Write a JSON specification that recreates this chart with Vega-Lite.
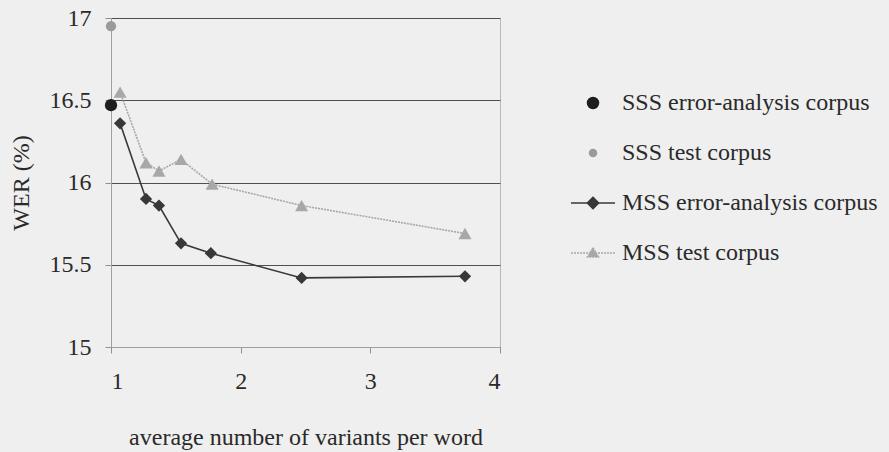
{
  "$schema": "https://vega.github.io/schema/vega-lite/v6.json",
  "width": 389,
  "height": 329,
  "autosize": {"type": "none"},
  "padding": {"left": 111, "top": 18, "right": 389, "bottom": 105},
  "background": "#efefef",
  "config": {
    "font": "Liberation Serif",
    "view": {"stroke": "#b8b8b8", "strokeWidth": 1, "fill": "#efefef"},
    "axis": {"labelFont": "Liberation Serif", "titleFont": "Liberation Serif", "labelFontSize": 24, "titleFontSize": 24, "labelColor": "#2a2a2a", "titleColor": "#2a2a2a", "titleFontWeight": "normal"},
    "legend": {"labelFont": "Liberation Serif", "labelFontSize": 24, "labelColor": "#2a2a2a", "padding": 0, "labelLimit": 0}
  },
  "data": {
    "values": [
      {"series": "SSS error-analysis corpus", "x": 1.0, "y": 16.47},
      {"series": "SSS test corpus", "x": 1.0, "y": 16.95},
      {"series": "MSS error-analysis corpus", "x": 1.07, "y": 16.36},
      {"series": "MSS error-analysis corpus", "x": 1.27, "y": 15.9},
      {"series": "MSS error-analysis corpus", "x": 1.37, "y": 15.86},
      {"series": "MSS error-analysis corpus", "x": 1.54, "y": 15.63},
      {"series": "MSS error-analysis corpus", "x": 1.77, "y": 15.57},
      {"series": "MSS error-analysis corpus", "x": 2.47, "y": 15.42},
      {"series": "MSS error-analysis corpus", "x": 3.73, "y": 15.43},
      {"series": "MSS test corpus", "x": 1.07, "y": 16.55},
      {"series": "MSS test corpus", "x": 1.27, "y": 16.12},
      {"series": "MSS test corpus", "x": 1.37, "y": 16.07},
      {"series": "MSS test corpus", "x": 1.54, "y": 16.14},
      {"series": "MSS test corpus", "x": 1.78, "y": 15.99},
      {"series": "MSS test corpus", "x": 2.47, "y": 15.86},
      {"series": "MSS test corpus", "x": 3.73, "y": 15.69}
    ]
  },
  "encoding": {
    "x": {
      "field": "x", "type": "quantitative",
      "scale": {"domain": [1, 4], "nice": false, "zero": false},
      "axis": {"values": [1, 2, 3, 4], "format": "d", "grid": false, "labelFont": "Liberation Serif", "titleFont": "Liberation Serif", "domainColor": "#a0a0a0", "tickColor": "#909090", "tickSize": 6, "labelPadding": 16, "title": "average number of variants per word", "titlePadding": 32}
    },
    "y": {
      "field": "y", "type": "quantitative",
      "scale": {"domain": [15, 17], "nice": false, "zero": false},
      "axis": {"values": [15, 15.5, 16, 16.5, 17], "format": "~g", "grid": true, "labelFont": "Liberation Serif", "titleFont": "Liberation Serif", "gridColor": "#505050", "gridWidth": 1, "domainColor": "#a0a0a0", "tickColor": "#909090", "tickSize": 6, "labelPadding": 14, "title": "WER (%)", "titlePadding": 16}
    },
    "color": {
      "field": "series", "type": "nominal",
      "scale": {"domain": ["SSS error-analysis corpus", "SSS test corpus", "MSS error-analysis corpus", "MSS test corpus"], "range": ["#1e1e1e", "#9a9a9a", "#383838", "#a8a8a8"]},
      "legend": {
        "title": null,
        "orient": "none",
        "legendX": 459,
        "legendY": 62,
        "rowPadding": 15,
        "symbolSize": 1936,
        "labelOffset": 6,
        "labelLimit": 0,
        "encode": {
          "symbols": {
            "update": {
              "size": {"value": 1936},
              "strokeWidth": {"value": 1.5},
              "opacity": {"value": 1},
              "strokeDash": {"signal": "datum.value == 'MSS test corpus' ? [2, 1] : []"},
              "shape": {"signal": "datum.value == 'SSS error-analysis corpus' ? 'M-0.25,0A0.25,0.25,0,1,1,0.25,0A0.25,0.25,0,1,1,-0.25,0Z' : datum.value == 'SSS test corpus' ? 'M-0.16,0A0.16,0.16,0,1,1,0.16,0A0.16,0.16,0,1,1,-0.16,0Z' : datum.value == 'MSS error-analysis corpus' ? 'M-1,0H1M0,-0.26L0.26,0L0,0.26L-0.26,0Z' : 'M-1,0H1M0,-0.24L0.25,0.18L-0.25,0.18Z'"},
              "fill": {"signal": "datum.value == 'SSS error-analysis corpus' ? '#1e1e1e' : datum.value == 'SSS test corpus' ? '#9a9a9a' : datum.value == 'MSS error-analysis corpus' ? '#383838' : '#a8a8a8'"},
              "stroke": {"signal": "datum.value == 'SSS error-analysis corpus' ? '#1e1e1e' : datum.value == 'SSS test corpus' ? '#9a9a9a' : datum.value == 'MSS error-analysis corpus' ? '#383838' : '#a8a8a8'"}
            }
          }
        }
      }
    }
  },
  "layer": [
    {
      "transform": [{"filter": "datum.series == 'MSS test corpus'"}],
      "mark": {"type": "line", "strokeWidth": 1.6, "strokeDash": [2, 1]}
    },
    {
      "transform": [{"filter": "datum.series == 'MSS error-analysis corpus'"}],
      "mark": {"type": "line", "strokeWidth": 1.6}
    },
    {
      "transform": [{"filter": "datum.series == 'MSS test corpus'"}],
      "mark": {"type": "point", "shape": "triangle-up", "filled": true, "opacity": 1, "size": 170}
    },
    {
      "transform": [{"filter": "datum.series == 'MSS error-analysis corpus'"}],
      "mark": {"type": "point", "shape": "diamond", "filled": true, "opacity": 1, "size": 150}
    },
    {
      "transform": [{"filter": "datum.series == 'SSS test corpus'"}],
      "mark": {"type": "point", "shape": "circle", "filled": true, "opacity": 1, "size": 105}
    },
    {
      "transform": [{"filter": "datum.series == 'SSS error-analysis corpus'"}],
      "mark": {"type": "point", "shape": "circle", "filled": true, "opacity": 1, "size": 150}
    }
  ]
}
